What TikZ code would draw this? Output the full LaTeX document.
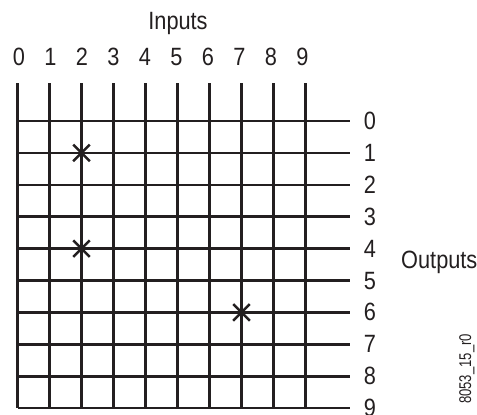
\documentclass[tikz,border=0pt]{standalone}
\usepackage{fontspec}
\setmainfont{Liberation Sans}[FakeStretch=0.87]
\newfontfamily\tagfont{Liberation Sans}[FakeStretch=0.77]
\usetikzlibrary{shapes.misc}
\definecolor{ink}{HTML}{231F20}
\begin{document}
\begin{tikzpicture}[x=1pt,y=-1pt,
  gridline/.style={draw=ink,line width=2.6pt},
  lbl/.style={inner sep=0pt,anchor=base,font=\fontsize{25}{25}\selectfont,text=ink},
  xmark/.style={cross out,draw=ink,line width=2.6pt,minimum size=14pt,inner sep=0pt}]
\useasboundingbox (0,0) rectangle (477,415);
% grid
\foreach \i in {0,...,9}{
  \coordinate (vt\i) at ({17.5+32*\i},83);
  \coordinate (vb\i) at ({17.5+32*\i},408.1);
  \draw[gridline] (vt\i) -- (vb\i);
  \coordinate (hl\i) at (17.5,{121+31.9*\i});
  \coordinate (hr\i) at (350,{121+31.9*\i});
  \draw[gridline] (hl\i) -- (hr\i);
  \node[lbl] (in\i) at ({19+31.5*\i},65) {\i};
  \node[lbl] (out\i) at (370,{129.5+31.9*\i}) {\i};
}
\node[lbl] (inputs) at (178,29.5) {Inputs};
\node[lbl,anchor=base west] (outputs) at (401,268) {Outputs};
% crosspoints
\node[xmark] (c21) at (81.5,152.9) {};
\node[xmark] (c24) at (81.5,248.6) {};
\node[xmark] (c76) at (241.5,312.4) {};
% figure tag
\node[inner sep=0pt,rotate=90,text=ink,font=\tagfont\fontsize{17}{17}\selectfont] (tag) at (467,369) {8053\_15\_r0};
\end{tikzpicture}
\end{document}
